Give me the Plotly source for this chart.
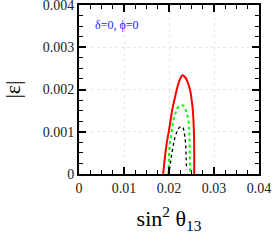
import plotly.graph_objects as go

# Data
red_x = [0.0187, 0.0191, 0.0195, 0.0201, 0.0207, 0.0213, 0.0219, 0.0225, 0.0230, 0.0236, 0.0242, 0.0247, 0.0251, 0.0253, 0.0255, 0.0256, 0.0256]
red_y = [0.0, 0.0004, 0.00073, 0.0011, 0.00151, 0.0018, 0.00207, 0.00226, 0.00234, 0.00229, 0.00216, 0.00198, 0.0017, 0.0015, 0.0011, 0.0006, 0.0]

green_x = [0.01985, 0.0200, 0.0202, 0.0206, 0.0210, 0.0215, 0.0220, 0.0225, 0.0229, 0.0233, 0.0237, 0.0241, 0.0243, 0.0245, 0.0246, 0.02467]
green_y = [0.0, 0.0004, 0.00073, 0.0010, 0.00128, 0.00146, 0.00158, 0.00162, 0.00163, 0.00161, 0.00152, 0.00138, 0.00128, 0.0010, 0.0006, 0.0]

black_x = [0.0201, 0.0205, 0.0210, 0.0213, 0.0218, 0.0223, 0.0227, 0.0230, 0.0233, 0.0235, 0.0237, 0.0238, 0.0239]
black_y = [0.0001, 0.0004, 0.0007, 0.00085, 0.00101, 0.0011, 0.00112, 0.00111, 0.00104, 0.0009, 0.0007, 0.0004, 0.0001]

x_ticks = [0, 0.01, 0.02, 0.03, 0.04]
x_labels = ["0", "0.01", "0.02", "0.03", "0.04"]
y_ticks = [0, 0.001, 0.002, 0.003, 0.004]
y_labels = ["0", "0.001", "0.002", "0.003", "0.004"]

fig = go.Figure()
fig.add_trace(go.Scatter(x=red_x, y=red_y, mode="lines", line=dict(color="#ff0000", width=2), line_shape="spline"))
fig.add_trace(go.Scatter(x=green_x, y=green_y, mode="lines", line=dict(color="#00ff00", width=2, dash="dot"), line_shape="spline"))
fig.add_trace(go.Scatter(x=black_x, y=black_y, mode="lines", line=dict(color="#000000", width=1.3, dash="3px,3px"), line_shape="spline"))

font_serif = "Liberation Serif, Times New Roman, serif"
axis_common = dict(
    showline=True, linecolor="black", linewidth=2, mirror="allticks",
    ticks="inside", ticklen=7, tickwidth=1.5, tickcolor="black",
    showgrid=True, gridcolor="#e6e6e6", griddash="dot", gridwidth=1,
    zeroline=False, automargin=False, ticklabeloverflow="allow",
    tickfont=dict(family=font_serif, size=14, color="#222"),
)
fig.update_xaxes(range=[0, 0.0400001], tickvals=x_ticks, ticktext=x_labels,
                 minor=dict(dtick=0.0025, ticks="inside", ticklen=4, tickcolor="black", tickwidth=1.2, showgrid=False),
                 title=dict(text="sin<sup>2</sup> θ<sub>13</sub>", font=dict(family=font_serif, size=22, color="black"), standoff=16),
                 **axis_common)
fig.update_yaxes(range=[0, 0.00400001], tickvals=y_ticks, ticktext=y_labels,
                 minor=dict(dtick=0.00025, ticks="inside", ticklen=4, tickcolor="black", tickwidth=1.2, showgrid=False),
                 title=dict(text="|ε|", font=dict(family=font_serif, size=22, color="black"), standoff=16),
                 **axis_common)
fig.add_annotation(x=0.003, y=0.00352, xref="x", yref="y", text="δ=0, ϕ=0", showarrow=False,
                   xanchor="left", yanchor="middle", font=dict(family=font_serif, size=12, color="#2020ff"))
fig.update_layout(width=274, height=241, margin=dict(l=79, r=15, t=5, b=67),
                  paper_bgcolor="white", plot_bgcolor="white", showlegend=False)
fig.write_html("out.html", config={"displayModeBar": False},
               post_script="document.body.style.margin='0';document.body.style.overflow='hidden';")
